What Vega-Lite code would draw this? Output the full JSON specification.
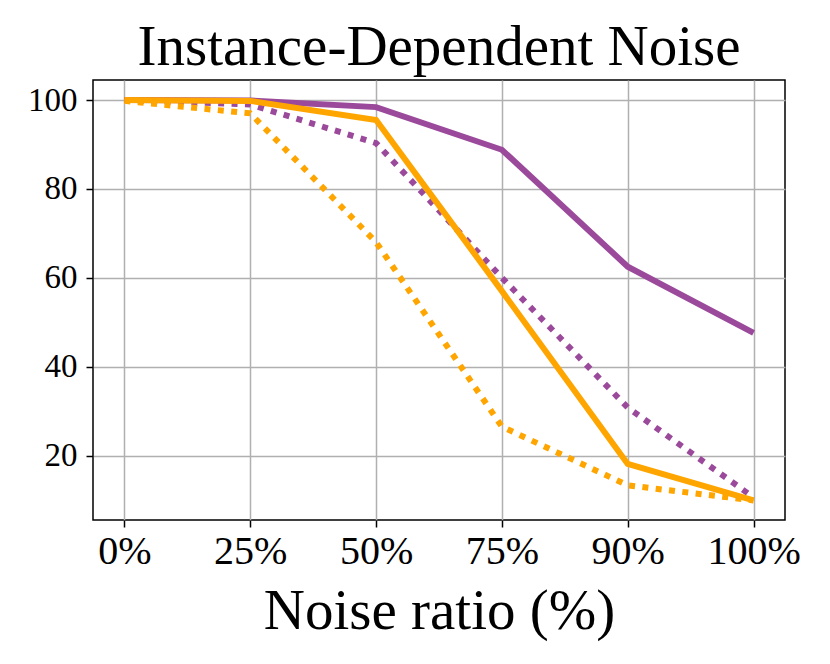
{
  "$schema": "https://vega.github.io/schema/vega-lite/v6.json",
  "description": "Accuracy vs noise ratio under instance-dependent noise, four methods.",
  "width": 692,
  "height": 440,
  "autosize": {"type": "none"},
  "padding": {"left": 93, "top": 80, "right": 45, "bottom": 144},
  "title": {
    "text": "Instance-Dependent Noise",
    "fontSize": 57,
    "font": "Liberation Serif",
    "fontWeight": "normal",
    "color": "black",
    "baseline": "alphabetic",
    "offset": 15,
    "dy": 57
  },
  "data": {
    "values": [
      {"ratio": "0%", "series": "A", "value": 100},
      {"ratio": "25%", "series": "A", "value": 99.9},
      {"ratio": "50%", "series": "A", "value": 98.4},
      {"ratio": "75%", "series": "A", "value": 88.8},
      {"ratio": "90%", "series": "A", "value": 62.5},
      {"ratio": "100%", "series": "A", "value": 47.6},
      {"ratio": "0%", "series": "B", "value": 100},
      {"ratio": "25%", "series": "B", "value": 99},
      {"ratio": "50%", "series": "B", "value": 90.3},
      {"ratio": "75%", "series": "B", "value": 60},
      {"ratio": "90%", "series": "B", "value": 30.8},
      {"ratio": "100%", "series": "B", "value": 10.6},
      {"ratio": "0%", "series": "C", "value": 100},
      {"ratio": "25%", "series": "C", "value": 99.8},
      {"ratio": "50%", "series": "C", "value": 95.5},
      {"ratio": "75%", "series": "C", "value": 57},
      {"ratio": "90%", "series": "C", "value": 18.1},
      {"ratio": "100%", "series": "C", "value": 9.9},
      {"ratio": "0%", "series": "D", "value": 99.8},
      {"ratio": "25%", "series": "D", "value": 97},
      {"ratio": "50%", "series": "D", "value": 68},
      {"ratio": "75%", "series": "D", "value": 26.5},
      {"ratio": "90%", "series": "D", "value": 13.3},
      {"ratio": "100%", "series": "D", "value": 9.9}
    ]
  },
  "encoding": {
    "x": {
      "field": "ratio",
      "type": "ordinal",
      "sort": ["0%", "25%", "50%", "75%", "90%", "100%"],
      "scale": {"type": "point", "padding": 0.25},
      "axis": {
        "title": "Noise ratio (%)",
        "titleFontSize": 57,
        "titleBaseline": "alphabetic",
        "titleY": 108,
        "labelFontSize": 40,
        "labelPadding": 4,
        "labelAngle": 0
      }
    },
    "y": {
      "field": "value",
      "type": "quantitative",
      "scale": {"domain": [5.5, 104.5], "nice": false, "zero": false},
      "axis": {
        "title": null,
        "values": [20, 40, 60, 80, 100],
        "labelFontSize": 33,
        "labelPadding": 9
      }
    }
  },
  "layer": [
    {
      "transform": [{"filter": "datum.series === 'A'"}],
      "mark": {"type": "line", "color": "#9b4a9b", "strokeWidth": 6}
    },
    {
      "transform": [{"filter": "datum.series === 'B'"}],
      "mark": {"type": "line", "color": "#9b4a9b", "strokeWidth": 6, "strokeDash": [6, 7.4]}
    },
    {
      "transform": [{"filter": "datum.series === 'C'"}],
      "mark": {"type": "line", "color": "#ffa500", "strokeWidth": 6}
    },
    {
      "transform": [{"filter": "datum.series === 'D'"}],
      "mark": {"type": "line", "color": "#ffa500", "strokeWidth": 6, "strokeDash": [6, 7.4]}
    }
  ],
  "config": {
    "font": "Liberation Serif",
    "view": {"stroke": "black", "strokeWidth": 1.5},
    "axis": {
      "domain": false,
      "grid": true,
      "gridColor": "#b0b0b0",
      "gridWidth": 1.5,
      "gridOpacity": 1,
      "tickColor": "black",
      "tickWidth": 1.5,
      "tickSize": 7,
      "labelColor": "black",
      "titleColor": "black",
      "titleFontWeight": "normal",
      "labelFont": "Liberation Serif",
      "titleFont": "Liberation Serif"
    }
  }
}
